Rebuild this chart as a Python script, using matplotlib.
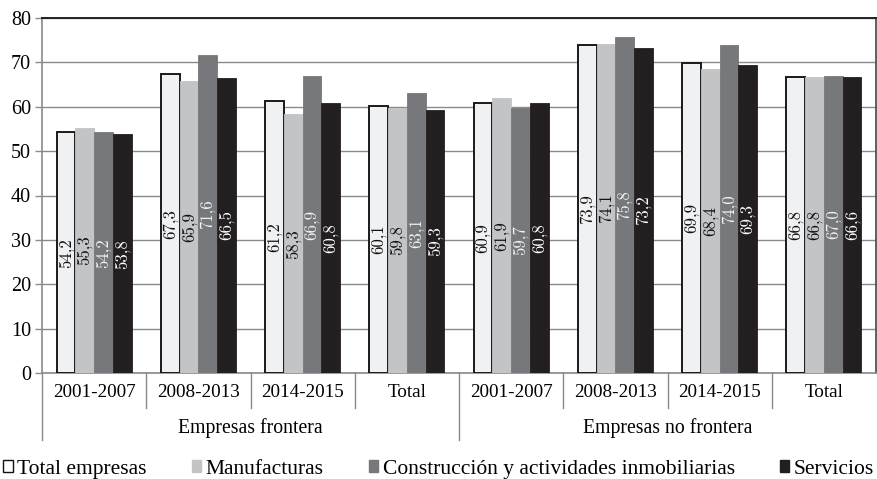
import numpy as np
import matplotlib
matplotlib.use("Agg")
import matplotlib.pyplot as plt
from matplotlib.lines import Line2D
from matplotlib.transforms import blended_transform_factory

# Data: share (%) by sector, period and firm type
periods = ["2001-2007", "2008-2013", "2014-2015", "Total",
           "2001-2007", "2008-2013", "2014-2015", "Total"]
groups = ["Empresas frontera", "Empresas no frontera"]
series = ["Total empresas", "Manufacturas",
          "Construcción y actividades inmobiliarias", "Servicios"]

total_empresas = [54.2, 67.3, 61.2, 60.1, 60.9, 73.9, 69.9, 66.8]
manufacturas = [55.3, 65.9, 58.3, 59.8, 61.9, 74.1, 68.4, 66.8]
construccion = [54.2, 71.6, 66.9, 63.1, 59.7, 75.8, 74.0, 67.0]
servicios = [53.8, 66.5, 60.8, 59.3, 60.8, 73.2, 69.3, 66.6]

values = [total_empresas, manufacturas, construccion, servicios]
fills = ["#f0f1f3", "#c3c4c6", "#77787c", "#231f20"]
edges = ["#1a1a1a", "#c3c4c6", "#77787c", "#231f20"]
text_colors = ["#111111", "#111111", "#f2f2f2", "#ffffff"]

serif = "Liberation Serif"
num_font = "cmr10"

fig = plt.figure(figsize=(8.77, 4.79), dpi=100)
ax = fig.add_axes([42 / 877, 1 - 373 / 479, 834 / 877, 355 / 479])

x = np.arange(len(periods))
width = 0.18
offsets = (np.arange(4) - 1.5) * width

for vals, off, fc, ec, tc in zip(values, offsets, fills, edges, text_colors):
    lw = 1.4 if ec == "#1a1a1a" else 0.6
    bars = ax.bar(x + off, vals, width, color=fc, edgecolor=ec, linewidth=lw, zorder=3)
    for b, v in zip(bars, vals):
        ax.text(b.get_x() + b.get_width() / 2, v / 2, f"{v:.1f}".replace(".", ","),
                rotation=90, ha="center", va="center", color=tc,
                fontsize=12, family=num_font, zorder=4)

ax.set_xlim(-0.5, len(periods) - 0.5)
ax.set_ylim(0, 80)
ax.set_yticks(np.arange(0, 81, 10))
ax.yaxis.grid(True, color="#8a8a8a", linewidth=1.0, zorder=0)
ax.set_axisbelow(True)

for side in ["left", "bottom", "right"]:
    ax.spines[side].set_color("#8a8a8a")
    ax.spines[side].set_linewidth(1.2)
ax.spines["top"].set_color("#222222")
ax.spines["top"].set_linewidth(1.4)
ax.spines["right"].set_color("#444444")

ax.tick_params(axis="y", length=5, width=1.0, color="#8a8a8a", pad=3,
               labelsize=14.5, labelfontfamily=serif)
ax.set_xticks(x)
ax.set_xticklabels(periods, fontsize=13.8, family=serif)
ax.tick_params(axis="x", length=0, pad=8)

# Multi-level category separators below the axis
trans = blended_transform_factory(ax.transData, ax.transAxes)
minor_depth = -35 / 355
major_depth = -67 / 355
for b in np.arange(-0.5, len(periods) - 1, 1.0):
    depth = major_depth if b in (-0.5, 3.5) else minor_depth
    ax.add_line(Line2D([b, b], [0, depth], transform=trans, color="#8a8a8a",
                       linewidth=1.0, clip_on=False))

for gx, name in zip([1.5, 5.5], groups):
    ax.text(gx, -55 / 355, name, transform=trans, ha="center", va="center",
            fontsize=14.2, family=serif)

handles = [plt.Rectangle((0, 0), 1, 1, facecolor=("#ffffff" if i == 0 else fc),
                         edgecolor=("#111111" if i == 0 else fc), linewidth=1.0)
           for i, fc in enumerate(fills)]
fig.legend(handles, series, loc="lower left", bbox_to_anchor=(0.0, -0.006, 1.0, 0.05),
           ncol=4, mode="expand", frameon=False, handlelength=0.45, handleheight=0.45,
           handletextpad=0.2, borderaxespad=0.0, borderpad=0.15,
           prop={"family": serif, "size": 15.5})

fig.savefig("out.png", dpi=100)
